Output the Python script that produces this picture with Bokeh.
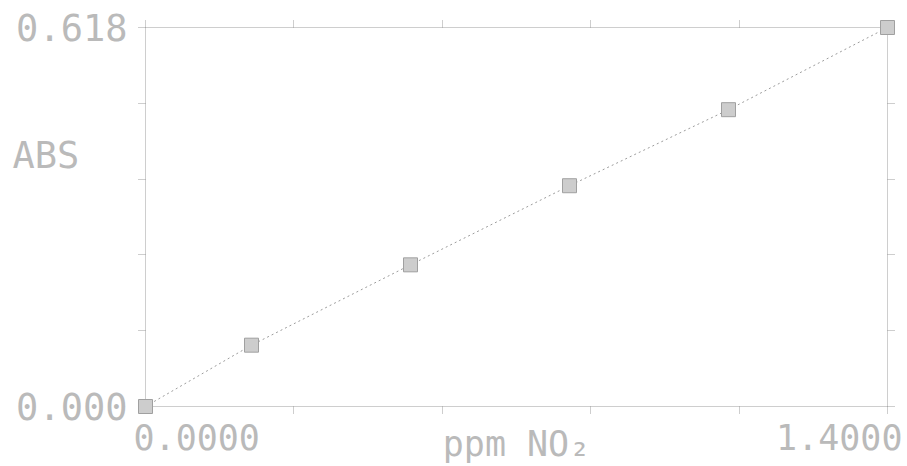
from bokeh.plotting import figure
from bokeh.models import Range1d, FixedTicker, LinearAxis, ColumnDataSource
from bokeh.core.properties import value
from bokeh.embed import file_html
from bokeh.resources import INLINE
import numpy as np

# ---- data ----
ppm_no2 = [0.0, 0.2, 0.5, 0.8, 1.1, 1.4]
absorbance = [0.0, 0.100, 0.231, 0.360, 0.484, 0.618]
x_min, x_max = 0.0, 1.4
y_min, y_max = 0.0, 0.618
x_label_left, x_label_right = "0.0000", "1.4000"
y_label_bottom, y_label_top = "0.000", "0.618"
x_title = "ppm NO₂"
y_title = "ABS"
n_div = 5

GRAY = "#9c9c9c"
TEXT = "#bababa"
FONT = "DejaVu Sans Mono"

p = figure(width=907, height=466, output_backend="svg", toolbar_location=None,
           x_range=Range1d(x_min, x_max), y_range=Range1d(y_min, y_max),
           min_border_left=145, min_border_right=20, min_border_top=27,
           min_border_bottom=60, x_axis_location=None, y_axis_location=None)
p.grid.visible = False
p.background_fill_color = "white"
p.border_fill_color = "white"
p.outline_line_color = GRAY
p.outline_line_dash = "1 1"
p.outline_line_width = 1

xt = list(np.linspace(x_min, x_max, n_div + 1))
yt = list(np.linspace(y_min, y_max, n_div + 1))

def style(ax):
    ax.axis_line_color = None
    ax.major_tick_line_color = GRAY
    ax.major_tick_line_dash = "1 1"
    ax.major_tick_out = 7
    ax.major_tick_in = 0
    ax.minor_tick_line_color = None
    ax.major_label_text_font_size = "0px"
    ax.major_label_standoff = 0
    return ax

for loc in ("below", "above"):
    p.add_layout(style(LinearAxis(ticker=FixedTicker(ticks=xt))), loc)
for loc in ("left", "right"):
    p.add_layout(style(LinearAxis(ticker=FixedTicker(ticks=yt))), loc)

src = ColumnDataSource(dict(x=ppm_no2, y=absorbance))
p.line("x", "y", source=src, line_color=GRAY, line_dash="2 3", line_width=1)
p.scatter("x", "y", source=src, marker="square", size=14, fill_color="#cdcdcd",
          line_color="#a0a0a0", line_width=1, level="overlay")

def lab(text, x, y, xo, yo, align, base, size="37px"):
    p.text(x=[x], y=[y], text=[text], x_offset=xo, y_offset=yo,
           text_align=align, text_baseline=base,
           text_font=value(FONT), text_font_size=size,
           text_color=TEXT, level="overlay")

lab(y_label_top, x_min, y_max, -18, 0, "right", "middle")
lab(y_label_bottom, x_min, y_min, -18, 0, "right", "middle")
lab(x_label_left, x_min, y_min, -12, 17, "left", "top", "35px")
lab(x_label_right, x_max, y_min, 15, 17, "right", "top", "35px")
lab(x_title, (x_min + x_max) / 2, y_min, 0, 17, "center", "top", "35px")
lab(y_title, x_min, y_max, -133, 128, "left", "middle")

open("out.html", "w").write(file_html(p, INLINE))
